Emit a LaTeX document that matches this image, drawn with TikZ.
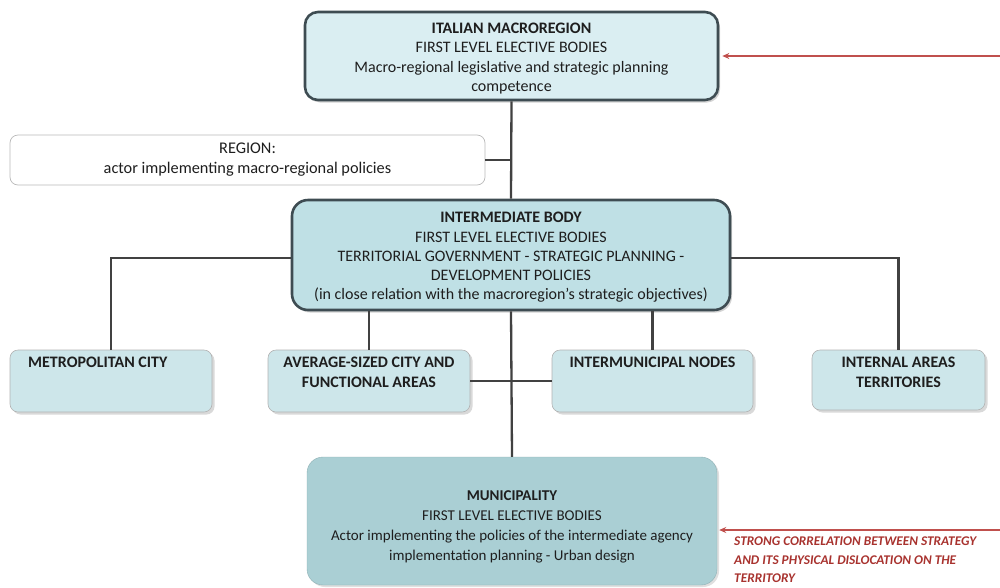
\documentclass[tikz,border=0pt]{standalone}
\usepackage{fontspec}
\setmainfont{Carlito}
\usetikzlibrary{shadows,arrows.meta}
\definecolor{edgedark}{HTML}{3E4C52}
\definecolor{linegray}{HTML}{414141}
\definecolor{fillpale}{HTML}{DAEEF2}
\definecolor{fillmid}{HTML}{BFE0E5}
\definecolor{filllow}{HTML}{CDE6EA}
\definecolor{fillmuni}{HTML}{AACFD4}
\definecolor{arrowred}{HTML}{C0504D}
\definecolor{textred}{HTML}{A8322E}
\definecolor{txt}{HTML}{1E1E1E}
\tikzset{
  mainbox/.style={draw=edgedark, line width=2.6pt, rounded corners=13pt,
    drop shadow={shadow xshift=2pt, shadow yshift=-2.5pt, opacity=0.35}},
  boxtext/.style={align=center, text=txt, inner sep=0pt, font=\fontsize{16}{19.3}\selectfont},
  lowbox/.style={draw=gray!60, line width=0.6pt, fill=filllow, rounded corners=8pt,
    drop shadow={shadow xshift=2.5pt, shadow yshift=-2.5pt, opacity=0.3}},
  lowtext/.style={align=center, text=txt, font=\fontsize{16}{20}\selectfont\bfseries, inner sep=0pt},
  conn/.style={draw=linegray, line width=2.3pt},
  redarrow/.style={draw=arrowred, line width=1.8pt, -{Stealth[length=7pt,width=6pt]}},
}
\begin{document}
\begin{tikzpicture}[x=1pt,y=-1pt]
\useasboundingbox (0,0) rectangle (1000,587);

% upper levels
\node[mainbox, fill=fillpale, minimum width=413pt, minimum height=88pt] (macro) at (511.5,56) {};
\node[boxtext] (macrot) at (511.5,58.5)
  {\textbf{ITALIAN MACROREGION}\\FIRST LEVEL ELECTIVE BODIES\\Macro-regional legislative and strategic planning\\competence};
\node[draw=gray!55, line width=0.7pt, fill=white, rounded corners=8pt, minimum width=475pt,
  minimum height=50pt] (region) at (247.5,160) {};
\node[boxtext, font=\fontsize{16.3}{20}\selectfont] (regiont) at (247.5,160)
  {REGION:\\actor implementing macro-regional policies};
\node[mainbox, fill=fillmid, rounded corners=16pt, minimum width=438pt, minimum height=110pt] (inter) at (511,255) {};
\node[boxtext] (intert) at (511,257.5)
  {\textbf{INTERMEDIATE BODY}\\FIRST LEVEL ELECTIVE BODIES\\TERRITORIAL GOVERNMENT - STRATEGIC PLANNING -\\DEVELOPMENT POLICIES\\(in close relation with the macroregion's strategic objectives)};

% lower row
\node[lowbox, minimum width=202pt, minimum height=62pt] (metro) at (111,381) {};
\node[lowbox, minimum width=202pt, minimum height=62pt] (avg) at (369,381) {};
\node[lowbox, minimum width=201pt, minimum height=62pt] (intm) at (652.5,381) {};
\node[lowbox, minimum width=173pt, minimum height=60pt] (internal) at (898.5,380) {};
\node[lowtext, anchor=north west] (metrot) at (28,357) {METROPOLITAN CITY};
\node[lowtext, anchor=north] (avgt) at ([yshift=-7pt]avg.north) {AVERAGE-SIZED CITY AND\\FUNCTIONAL AREAS};
\node[lowtext, anchor=north] (intmt) at ([yshift=-7pt]intm.north) {INTERMUNICIPAL NODES};
\node[lowtext, anchor=north] (internalt) at ([yshift=-7pt]internal.north) {INTERNAL AREAS\\TERRITORIES};

% municipality
\node[fill=fillmuni, draw=fillmuni!85!black, line width=0.4pt, rounded corners=16pt, minimum width=410pt,
  minimum height=128pt, drop shadow={shadow xshift=2pt, shadow yshift=-2pt, opacity=0.25}] (muni) at (512,521) {};
\node[boxtext, font=\fontsize{15}{20}\selectfont] (munit) at (512,527)
  {\textbf{MUNICIPALITY}\\FIRST LEVEL ELECTIVE BODIES\\Actor implementing the policies of the intermediate agency\\implementation planning - Urban design};

% connectors
\draw[conn] (macro.south) -- (inter.north);
\draw[conn] (region.east) -- (region.east -| macro.south);
\draw[conn] ([yshift=-3pt]inter.west) -| (metro.north);
\draw[conn] ([yshift=-3pt]inter.east) -| (internal.north);
\draw[conn] (inter.south -| avg.north) -- (avg.north);
\draw[conn] (inter.south -| intm.north) -- (intm.north);
\draw[conn] (inter.south) -- (muni.north);
\draw[conn] (avg.east) -- (intm.west);

% side arrows
\coordinate (rtop) at (1000,56);
\coordinate (rlow) at (1000,530);
\draw[redarrow] (rtop) -- ([xshift=3pt]macro.east);
\draw[redarrow] (rlow) -- ([xshift=2pt]rlow -| muni.east);
\node[anchor=north west, align=left, inner sep=0pt, text=textred,
  font=\fontsize{13.3}{18.3}\selectfont\bfseries\itshape] (note) at (734,537)
  {STRONG CORRELATION BETWEEN STRATEGY\\AND ITS PHYSICAL DISLOCATION ON THE\\TERRITORY};
\end{tikzpicture}
\end{document}
